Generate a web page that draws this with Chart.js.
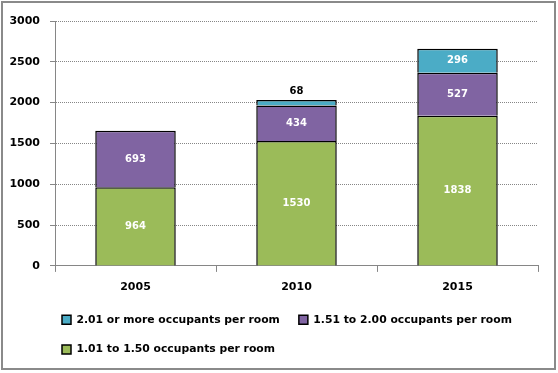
<!DOCTYPE html>
<html>
<head>
<meta charset="utf-8">
<script src="https://cdn.jsdelivr.net/npm/chart.js@4/dist/chart.umd.min.js"></script>
<style>
    body { margin: 0; background: #fff; }
    #frame {
        position: absolute; left: 1px; top: 1px;
        width: 555px; height: 369px;
        box-sizing: border-box;
        border: 2px solid #8a8a8a;
        background: #fff;
    }
    canvas { display: block; }
</style>
</head>
<body>
<div id="frame"><canvas id="crowdingChart" width="551" height="365"></canvas></div>
<script>
// Dữ liệu biểu đồ
const categories = ['2005', '2010', '2015'];
const seriesNames = [
    '1.01 to 1.50 occupants per room',
    '1.51 to 2.00 occupants per room',
    '2.01 or more occupants per room'
];
const lowValues = [964, 1530, 1838];
const midValues = [693, 434, 527];
const highValues = [null, 68, 296];
const seriesColors = ['#9bbb59', '#8064a2', '#4bacc6'];
const yMax = 3000;
const yStep = 500;

const FONT = '"DejaVu Sans", Verdana, sans-serif';
const AXIS_GRAY = '#868686';

// Nhãn giá trị trên từng đoạn cột
const valueLabels = {
    id: 'valueLabels',
    afterDatasetsDraw(chart) {
        const ctx = chart.ctx;
        ctx.save();
        ctx.font = 'bold 10px ' + FONT;
        ctx.textAlign = 'center';
        ctx.textBaseline = 'middle';
        chart.data.datasets.forEach((ds, i) => {
            chart.getDatasetMeta(i).data.forEach((bar, j) => {
                const v = ds.data[j];
                if (v == null) return;
                const h = bar.base - bar.y;
                if (h < 16) {
                    ctx.fillStyle = '#000';
                    ctx.fillText(String(v), bar.x, bar.y - 9);
                } else {
                    ctx.fillStyle = '#fff';
                    ctx.fillText(String(v), bar.x, (bar.y + bar.base) / 2);
                }
            });
        });
        ctx.restore();
    }
};

// Chú thích canh theo mép trái vùng vẽ
const legendShift = {
    id: 'legendShift',
    afterLayout(chart) {
        chart.legend.left = chart.chartArea.left - 12;
        chart.legend.right = chart.width - 4;
    }
};

const datasets = [lowValues, midValues, highValues].map((values, i) => ({
    label: seriesNames[i],
    data: values,
    backgroundColor: seriesColors[i],
    borderColor: '#000',
    borderWidth: 1.5,
    borderSkipped: 'start',
    barPercentage: 0.5,
    categoryPercentage: 1
}));

new Chart(document.getElementById('crowdingChart').getContext('2d'), {
    type: 'bar',
    data: { labels: categories, datasets: datasets },
    plugins: [valueLabels, legendShift],
    options: {
        responsive: false,
        animation: false,
        layout: { padding: { left: 6, right: 16, top: 18, bottom: 3 } },
        plugins: {
            tooltip: { enabled: false },
            legend: {
                position: 'bottom',
                align: 'start',
                reverse: true,
                labels: {
                    boxWidth: 9,
                    boxHeight: 9,
                    padding: 19,
                    color: '#000',
                    font: { family: FONT, size: 10.8, weight: 'bold' }
                }
            }
        },
        scales: {
            x: {
                stacked: true,
                afterFit: scale => { scale.height = 29.5; },
                border: { color: AXIS_GRAY, width: 1 },
                grid: {
                    offset: true,
                    drawOnChartArea: false,
                    color: AXIS_GRAY,
                    tickLength: 6
                },
                ticks: {
                    color: '#000',
                    padding: 9,
                    font: { family: FONT, size: 11, weight: 'bold' }
                }
            },
            y: {
                stacked: true,
                min: 0,
                max: yMax,
                afterFit: scale => { scale.width = 46; },
                border: { color: AXIS_GRAY, width: 1, dash: [1, 1] },
                grid: {
                    color: AXIS_GRAY,
                    tickColor: AXIS_GRAY,
                    tickLength: 5
                },
                ticks: {
                    stepSize: yStep,
                    color: '#000',
                    padding: 10,
                    callback: value => String(value),
                    font: { family: FONT, size: 11, weight: 'bold' }
                }
            }
        }
    }
});
</script>
</body>
</html>
